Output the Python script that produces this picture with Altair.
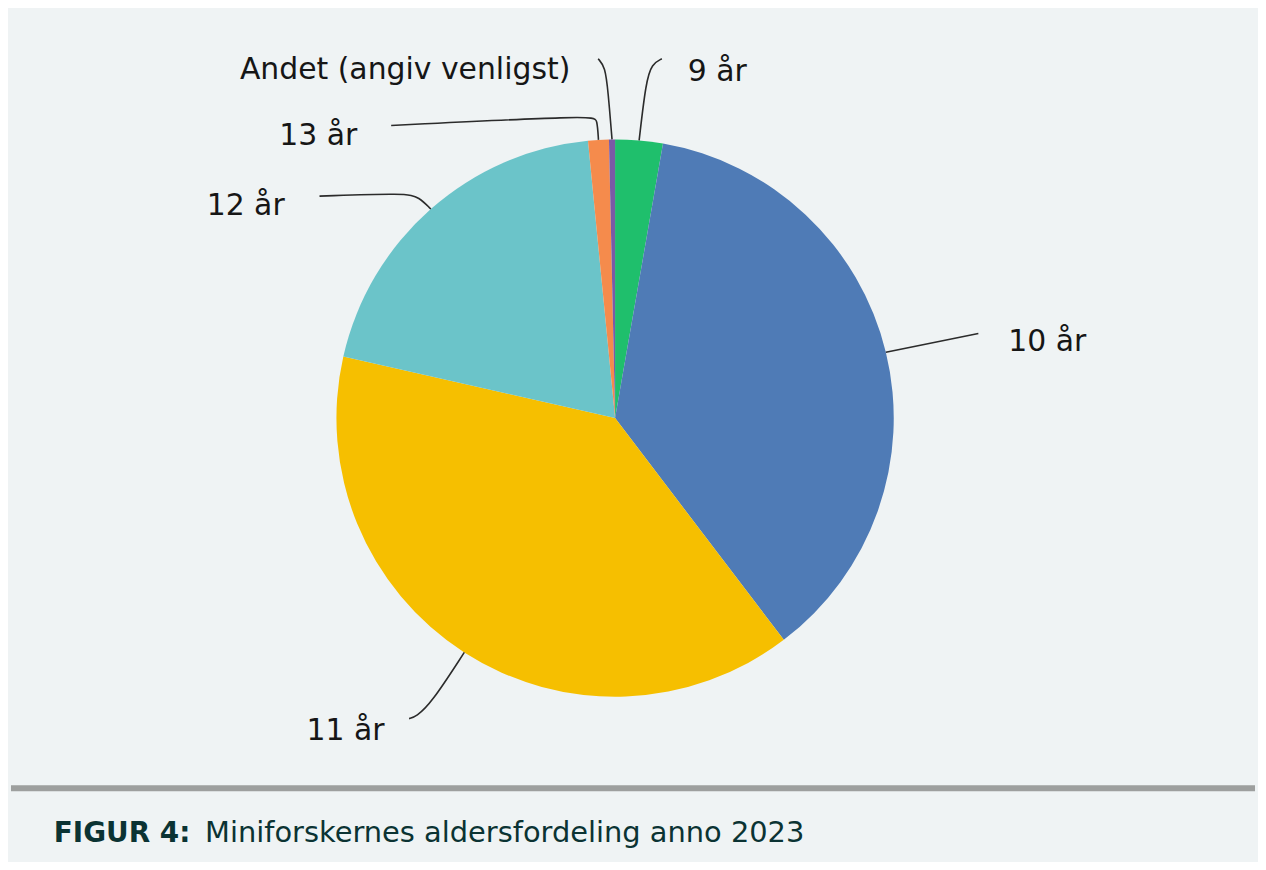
import math
import altair as alt
import pandas as pd

# ---- data ----
categories = ["9 år", "10 år", "11 år", "12 år", "13 år", "Andet (angiv venligst)"]
shares = [2.75, 36.9, 38.9, 19.9, 1.2, 0.35]
colors = ["#1fbf6c", "#4f7bb6", "#f6bf00", "#6bc4c9", "#f58b4c", "#7a5aa6"]
caption_bold = "FIGUR 4:"
caption_text = "Miniforskernes aldersfordeling anno 2023"

# ---- layout (pixels, relative to pie centre, y up) ----
W, H = 1250, 854
CX, CY = 607, 410          # pie centre inside the chart
R = 280
leader_waypoints = [
    [(31, 338), (37, 356), (47, 361)],
    [(365, 85)],
    [(-185, -287), (-200, -300), (-207, -302)],
    [(-197, 222), (-210, 226), (-297, 223)],
    [(-18, 300), (-22, 304), (-225, 294)],
    [(-7, 328), (-10, 353), (-17, 361)],
]
label_pos = [(73, 348, "left"), (395, 76, "left"), (-310, -314, "left"),
             (-332, 213, "right"), (-259, 283, "right"), (-45, 350, "right")]

xscale = alt.Scale(domain=[-CX, W - CX], nice=False, zero=False)
yscale = alt.Scale(domain=[-(H - CY), CY], nice=False, zero=False)

pie_df = pd.DataFrame({"cat": categories, "share": shares, "idx": list(range(len(categories)))})

pie = alt.Chart(pie_df).mark_arc(radius=R, stroke=None).encode(
    theta=alt.Theta("share:Q", stack=True),
    order=alt.Order("idx:O"),
    color=alt.Color("cat:N", scale=alt.Scale(domain=categories, range=colors), legend=None),
    x=alt.X(datum=0, type="quantitative", scale=xscale, axis=None),
    y=alt.Y(datum=0, type="quantitative", scale=yscale, axis=None),
)

# leader lines: start point on the slice edge at its mid-angle
total = sum(shares)
rows = []
cum = 0.0
for i, (cat, s) in enumerate(zip(categories, shares)):
    mid = (cum + s / 2) / total * 2 * math.pi
    cum += s
    pts = [(R * math.sin(mid), R * math.cos(mid))] + leader_waypoints[i]
    for j, (px, py) in enumerate(pts):
        rows.append({"cat": cat, "k": j, "x": px, "y": py})
lines_df = pd.DataFrame(rows)

lines = alt.Chart(lines_df).mark_line(color="#2b2b2b", strokeWidth=1.6, interpolate="basis").encode(
    x=alt.X("x:Q", scale=xscale, axis=None),
    y=alt.Y("y:Q", scale=yscale, axis=None),
    detail="cat:N",
    order="k:Q",
)

text_layers = []
for cat, (lx, ly, al) in zip(categories, label_pos):
    tdf = pd.DataFrame({"cat": [cat], "x": [lx], "y": [ly]})
    text_layers.append(
        alt.Chart(tdf).mark_text(align=al, baseline="middle", font="DejaVu Sans", fontSize=30,
                                 color="#161616").encode(
            x=alt.X("x:Q", scale=xscale, axis=None),
            y=alt.Y("y:Q", scale=yscale, axis=None),
            text="cat:N",
        )
    )

rule_df = pd.DataFrame({"x": [-CX], "x2": [W - CX], "y": [-372]})
rule = alt.Chart(rule_df).mark_rule(color="#9d9f9e", strokeWidth=6).encode(
    x=alt.X("x:Q", scale=xscale, axis=None), x2="x2:Q",
    y=alt.Y("y:Q", scale=yscale, axis=None),
)

cap_df = pd.DataFrame({"t1": [caption_bold], "t2": [caption_text], "x": [-564], "x2": [-412], "y": [-426]})
cap1 = alt.Chart(cap_df).mark_text(align="left", baseline="alphabetic", font="DejaVu Sans", fontSize=28,
                                   fontWeight="bold", color="#0b3333").encode(
    x=alt.X("x:Q", scale=xscale, axis=None), y=alt.Y("y:Q", scale=yscale, axis=None), text="t1:N")
cap2 = alt.Chart(cap_df).mark_text(align="left", baseline="alphabetic", font="DejaVu Sans", fontSize=29,
                                   color="#0b3333").encode(
    x=alt.X("x2:Q", scale=xscale, axis=None), y=alt.Y("y:Q", scale=yscale, axis=None), text="t2:N")

chart = alt.layer(pie, lines, *text_layers, rule, cap1, cap2).properties(
    width=W, height=H, padding=0, background="#eff3f4"
).configure_view(stroke=None)

chart.save("out.html", embed_options={"renderer": "svg", "actions": False})
